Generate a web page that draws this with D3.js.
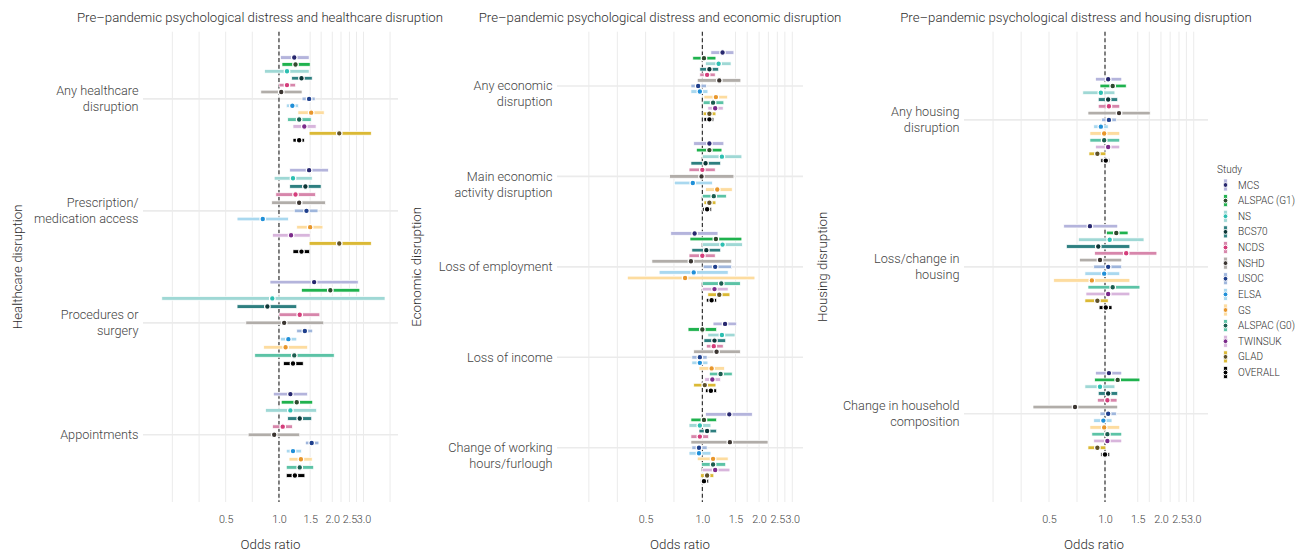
<!DOCTYPE html>
<html><head><meta charset="utf-8">
<script src="https://cdn.jsdelivr.net/npm/d3@7"></script>
<style>
html,body{margin:0;padding:0;background:#fff;}
svg{display:block;font-family:Roboto,"Noto Sans",sans-serif;}
</style></head><body>
<svg id="chart" width="1306" height="552"></svg>
<script>
// ---------------- DATA ----------------
const studies = ["MCS","ALSPAC (G1)","NS","BCS70","NCDS","NSHD","USOC","ELSA","GS","ALSPAC (G0)","TWINSUK","GLAD","OVERALL"];
const barColors   = ["#b4b4dc","#1fb24e","#9fd8d5","#2e7f80","#d786ab","#b1ada9","#9fb6dc","#a9d8ef","#fddc9f","#5cc3a6","#d8b5dc","#dbb935","#000000"];
const pointColors = ["#27276e","#2f4a2e","#2cbfb1","#0c3536","#d53d7b","#3b3531","#1f3f8c","#1f8fd8","#e8962b","#1c5d4f","#7b2a8a","#5d5029","#000000"];

const xTickValues = [0.5, 1, 1.5, 2, 2.5, 3];
const xTickLabels = ["0.5","1.0","1.5","2.0","2.5","3.0"];
const gridBreaks  = [0.25, 0.354, 0.5, 0.707, 1, 1.5, 1.73, 2, 2.24, 2.5, 2.74, 3, 4.24];

// Healthcare disruption
const healthcareCategories = [["Any healthcare","disruption"],["Prescription/","medication access"],["Procedures or","surgery"],["Appointments"]];
const healthcareEstimate = [
  [1.22,1.24,1.11,1.34,1.11,1.03,1.48,1.19,1.52,1.30,1.39,2.19,1.30],
  [1.48,null,1.20,1.41,1.24,1.30,1.43,0.81,1.50,null,1.17,2.19,1.34],
  [1.58,1.95,0.917,0.86,1.31,1.07,1.40,1.13,1.09,1.22,null,null,1.20],
  [1.16,1.26,1.16,1.31,1.05,0.94,1.53,1.20,1.33,1.31,null,null,1.23]];
const healthcareLower = [
  [1.02,1.04,0.83,1.18,1.00,0.79,1.35,1.10,1.28,1.12,1.20,1.48,1.20],
  [1.15,null,0.94,1.15,0.96,0.91,1.22,0.58,1.26,null,0.92,1.48,1.20],
  [0.89,1.34,0.218,0.58,1.00,0.65,1.26,1.02,0.82,0.73,null,null,1.06],
  [0.93,1.03,0.84,1.12,0.92,0.67,1.41,1.10,1.14,1.10,null,null,1.10]];
const healthcareUpper = [
  [1.48,1.50,1.48,1.54,1.24,1.35,1.60,1.29,1.80,1.52,1.62,3.32,1.39],
  [1.90,null,1.54,1.73,1.61,1.83,1.66,1.13,1.77,null,1.50,3.32,1.49],
  [2.80,2.86,3.97,1.26,1.70,1.79,1.55,1.26,1.45,2.05,null,null,1.37],
  [1.45,1.55,1.63,1.53,1.19,1.31,1.68,1.34,1.54,1.57,null,null,1.40]];

// Economic disruption
const economicCategories = [["","Any economic","disruption"],["","Main economic","activity disruption"],["Loss of employment"],["Loss of income"],["","Change of working","hours/furlough"]];
const economicEstimate = [
  [1.28,1.02,1.22,1.09,1.06,1.23,0.95,0.97,1.18,1.14,1.17,1.09,1.09],
  [1.09,1.09,1.27,1.04,1.00,0.99,null,0.89,1.20,1.15,null,1.09,1.06],
  [0.91,1.18,1.28,1.05,1.00,0.87,1.17,0.90,0.81,1.26,1.16,1.23,1.12],
  [1.32,1.00,1.27,1.16,1.15,1.19,0.97,0.97,1.12,1.25,1.13,1.03,1.11],
  [1.39,1.02,0.97,1.06,0.97,1.40,0.96,0.96,1.14,1.14,1.17,1.06,1.02]];
const economicLower = [
  [1.11,0.89,1.04,0.97,0.97,0.94,0.87,0.87,1.02,1.01,1.07,1.01,1.02],
  [0.90,0.93,1.00,0.87,0.85,0.67,null,0.71,1.04,1.00,null,1.02,1.00],
  [0.68,0.86,1.00,0.88,0.85,0.54,1.01,0.59,0.40,1.00,1.00,1.07,1.05],
  [1.14,0.84,1.07,1.02,1.05,0.90,0.88,0.88,0.96,1.09,1.03,0.90,1.04],
  [1.04,0.87,0.85,0.96,0.87,0.87,0.88,0.85,0.94,0.99,1.00,0.98,0.98]];
const economicUpper = [
  [1.47,1.18,1.42,1.22,1.17,1.60,1.05,1.07,1.36,1.30,1.29,1.18,1.15],
  [1.30,1.27,1.62,1.25,1.17,1.47,null,1.13,1.44,1.34,null,1.18,1.12],
  [1.21,1.62,1.63,1.25,1.17,1.43,1.43,1.37,1.90,1.59,1.37,1.40,1.19],
  [1.52,1.19,1.49,1.33,1.29,1.59,1.06,1.07,1.31,1.44,1.25,1.18,1.19],
  [1.84,1.19,1.11,1.19,1.08,2.23,1.06,1.11,1.37,1.33,1.40,1.15,1.08]];

// Housing disruption
const housingCategories = [["Any housing","disruption"],["Loss/change in","housing"],["Change in household","composition"]];
const housingEstimate = [
  [1.04,1.10,0.95,1.04,1.05,1.19,1.05,0.95,0.99,0.99,1.04,0.91,1.01],
  [0.83,1.15,1.06,0.92,1.30,0.94,1.04,0.99,0.85,1.10,1.04,0.91,1.01],
  [1.05,1.17,0.94,1.04,1.03,0.69,1.04,0.98,0.99,1.03,1.03,0.91,1.00]];
const housingLower = [
  [0.89,0.94,0.76,0.92,0.92,0.81,0.96,0.87,0.83,0.83,0.89,0.82,0.95],
  [0.60,1.02,0.72,0.62,0.88,0.73,0.87,0.78,0.53,0.81,0.79,0.78,0.93],
  [0.89,0.88,0.78,0.92,0.91,0.41,0.94,0.87,0.83,0.85,0.87,0.81,0.95]];
const housingUpper = [
  [1.23,1.30,1.13,1.17,1.20,1.75,1.15,1.04,1.20,1.20,1.20,1.01,1.06],
  [1.17,1.33,1.62,1.36,1.90,1.23,1.23,1.20,1.36,1.54,1.36,1.04,1.09],
  [1.23,1.54,1.13,1.17,1.16,1.17,1.15,1.09,1.20,1.23,1.23,1.01,1.06]];

// ---------------- LAYOUT ----------------
const panels = [
  {title:"Pre\u2013pandemic psychological distress and healthcare disruption", yTitle:"Healthcare disruption",
   cats:healthcareCategories, est:healthcareEstimate, lo:healthcareLower, hi:healthcareUpper,
   domain:[0.1707,4.70], left:143, right:398, dodge:0.8, titleX:260, yTitleX:17, xTitleX:270.5},
  {title:"Pre\u2013pandemic psychological distress and economic disruption", yTitle:"Economic disruption",
   cats:economicCategories, est:economicEstimate, lo:economicLower, hi:economicUpper,
   domain:[0.1694,3.42], left:557, right:803, dodge:0.8, titleX:660, yTitleX:416, xTitleX:680},
  {title:"Pre\u2013pandemic psychological distress and housing disruption", yTitle:"Housing disruption",
   cats:housingCategories, est:housingEstimate, lo:housingLower, hi:housingUpper,
   domain:[0.1745,3.58], left:964, right:1208, dodge:0.6, titleX:1076, yTitleX:822, xTitleX:1094}
];
const TOP = 31.7, BOTTOM = 502;
const TEXT_DARK = "#2e2e2e", TEXT_AXIS = "#444444";

const svg = d3.select("#chart");
svg.append("rect").attr("width",1306).attr("height",552).attr("fill","#fff");

panels.forEach(p => {
  const g = svg.append("g");
  const x = d3.scaleLog().domain(p.domain).range([p.left, p.right]);
  const y = d3.scalePoint().domain(p.cats.map((c,i)=>i)).range([TOP, BOTTOM]).padding(0.6);

  // vertical grid
  g.append("g").selectAll("line").data(gridBreaks.filter(b => b > p.domain[0] && b < p.domain[1])).join("line")
    .attr("x1", d=>x(d)).attr("x2", d=>x(d)).attr("y1", TOP).attr("y2", BOTTOM)
    .attr("stroke", "#ebebeb").attr("stroke-width", 1);
  // horizontal grid
  g.append("g").selectAll("line").data(p.cats.map((c,i)=>i)).join("line")
    .attr("x1", p.left).attr("x2", p.right).attr("y1", d=>y(d)).attr("y2", d=>y(d))
    .attr("stroke", "#ebebeb").attr("stroke-width", 1.6);
  // reference line at OR = 1
  g.append("line").attr("x1", x(1)).attr("x2", x(1)).attr("y1", TOP).attr("y2", BOTTOM)
    .attr("stroke", "#222").attr("stroke-width", 1.1).attr("stroke-dasharray", "4,2.6");

  // rows
  p.cats.forEach((cat, ci) => {
    const present = studies.map((s,si)=>si).filter(si => p.est[ci][si] != null);
    const half = y.step()*p.dodge/2;
    const inner = d3.scaleBand().domain(present).range([y(ci)-half, y(ci)+half]);
    const rows = present.map(si => ({si, yc: inner(si)+inner.bandwidth()/2,
      est:p.est[ci][si], lo:p.lo[ci][si], hi:p.hi[ci][si]}));
    const rg = g.append("g");
    rg.selectAll("rect").data(rows).join("rect")
      .attr("x", d=>x(d.lo)).attr("width", d=>x(d.hi)-x(d.lo))
      .attr("y", d=>d.yc-1.8).attr("height", 3.6)
      .attr("fill", d=>barColors[d.si]).attr("stroke", "#fff").attr("stroke-width", 0.7);
    rg.selectAll("circle").data(rows).join("circle")
      .attr("cx", d=>x(d.est)).attr("cy", d=>d.yc).attr("r", 2.8)
      .attr("fill", d=>pointColors[d.si]).attr("stroke", "#fff").attr("stroke-width", 1.2);
  });

  // category labels
  const lh = 15.8;
  p.cats.forEach((lines, ci) => {
    const t = g.append("text").attr("text-anchor","end").attr("fill", TEXT_AXIS)
      .attr("font-size", 12.7).attr("font-weight", 300);
    lines.forEach((ln, li) => {
      t.append("tspan").attr("x", p.left-4.5)
        .attr("y", y(ci) + (li-(lines.length-1)/2)*lh).attr("dy","0.35em").text(ln);
    });
  });

  // x axis
  const ax = g.append("g").attr("transform", `translate(0,${BOTTOM})`)
    .call(d3.axisBottom(x).tickValues(xTickValues).tickFormat((d,i)=>xTickLabels[i]).tickSize(0));
  ax.select(".domain").remove();
  ax.selectAll("text").attr("y", 17).attr("dy","0.35em").attr("fill", TEXT_AXIS)
    .attr("font-size", 10.8).attr("font-family", "Roboto, sans-serif").attr("font-weight", 300);

  // axis titles
  g.append("text").attr("x", p.xTitleX).attr("y", 544).attr("dy","0.35em").attr("text-anchor","middle")
    .attr("fill", TEXT_DARK).attr("font-size", 13.3).attr("font-weight", 300).text("Odds ratio");
  g.append("text").attr("transform", `translate(${p.yTitleX},${(TOP+BOTTOM)/2}) rotate(-90)`)
    .attr("dy","0.35em").attr("text-anchor","middle")
    .attr("fill", TEXT_DARK).attr("font-size", 13.3).attr("font-weight", 300).text(p.yTitle);
  g.append("text").attr("x", p.titleX).attr("y", 17).attr("dy","0.35em").attr("text-anchor","middle")
    .attr("fill", TEXT_DARK).attr("font-size", 13.2).attr("font-weight", 300).text(p.title);
});

// legend
const lg = svg.append("g");
lg.append("text").attr("x", 1217).attr("y", 169).attr("dy","0.35em").attr("fill", TEXT_DARK)
  .attr("font-size", 10).attr("font-weight", 300).text("Study");
const ly = d3.scalePoint().domain(studies).range([185, 372.5]);
const items = lg.selectAll("g.item").data(studies).join("g").attr("class","item")
  .attr("transform", d=>`translate(1225.5,${ly(d)})`);
items.append("rect").attr("x",-1.8).attr("y",-6).attr("width",3.6).attr("height",12)
  .attr("fill", (d,i)=>barColors[i]).attr("stroke","#fff").attr("stroke-width",0.7);
items.append("circle").attr("r",2.4).attr("fill",(d,i)=>pointColors[i]).attr("stroke","#fff").attr("stroke-width",1);
items.append("text").attr("x", 12.5).attr("dy","0.35em").attr("fill", TEXT_DARK)
  .attr("font-size", 10).attr("font-weight", 300).text(d=>d);
</script>
</body></html>
